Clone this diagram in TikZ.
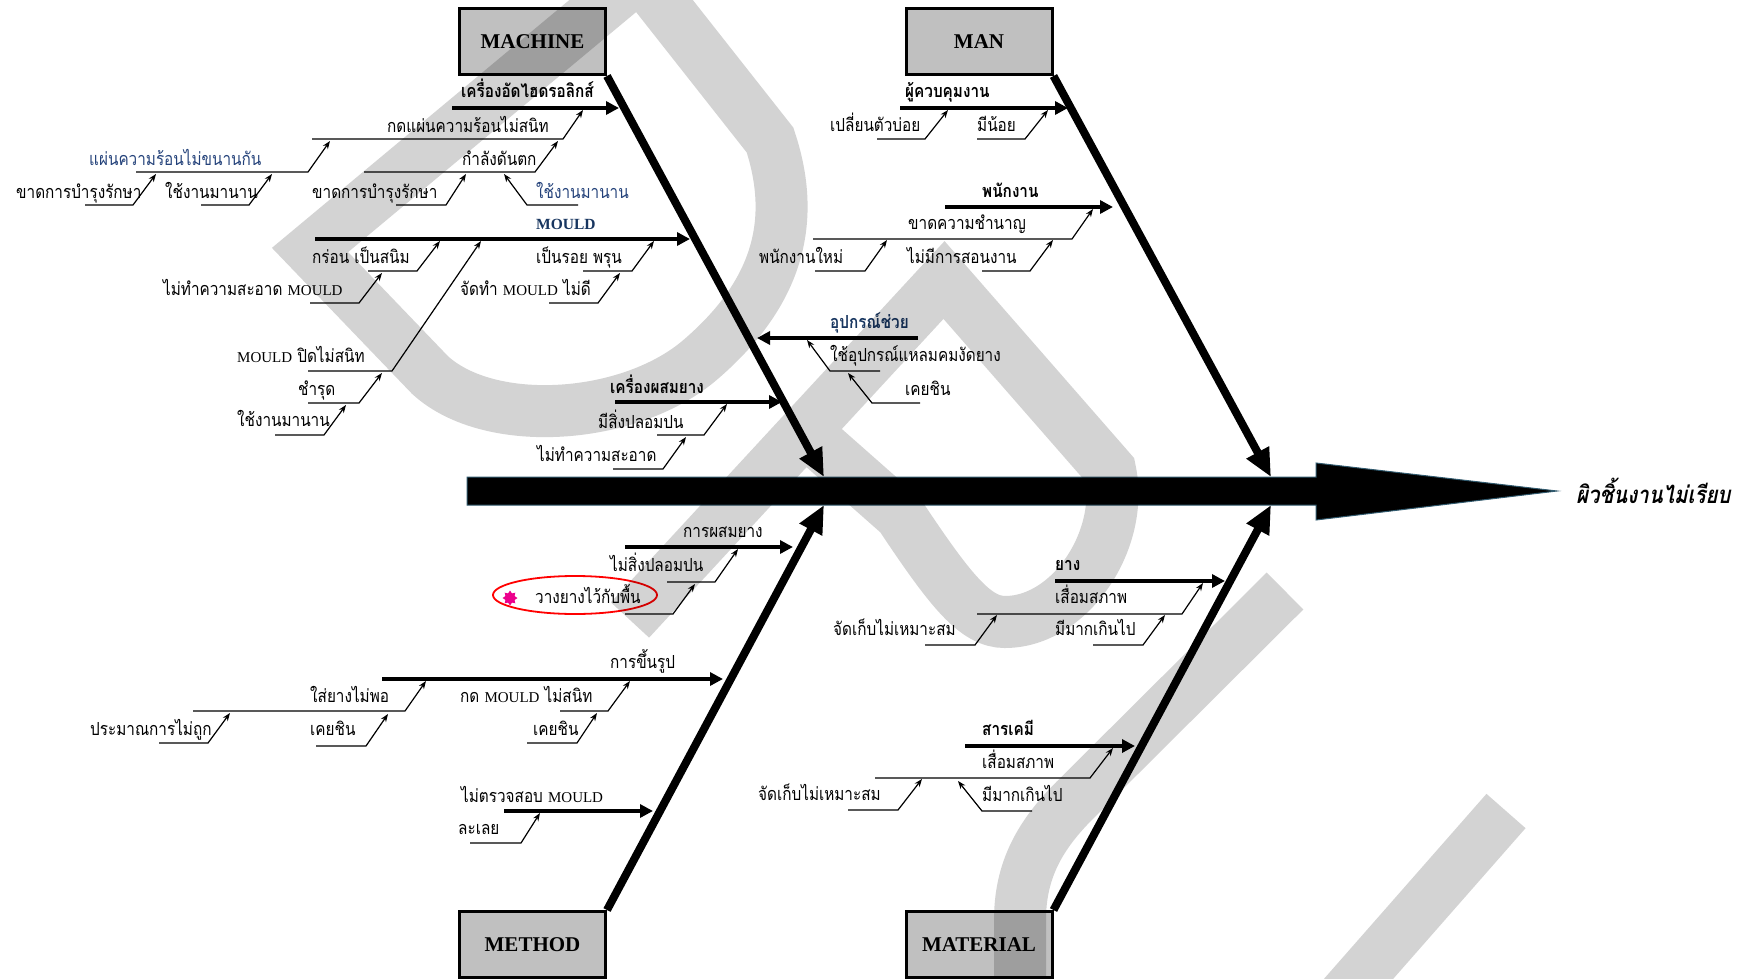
\documentclass[tikz,border=0pt]{standalone}
\usepackage{fontspec}
\setmainfont{Liberation Serif}
\newfontfamily\thaifont[Script=Thai,FakeStretch=0.85]{Loma}
\newfontfamily\thaieff[Script=Thai,FakeStretch=0.85,FakeSlant=0.2]{Loma}
\newcommand{\en}[1]{{\rmfamily\fontsize{15}{17}\selectfont #1}}
\usetikzlibrary{arrows.meta,shapes.geometric,positioning}
\definecolor{boxgrey}{RGB}{192,192,192}
\definecolor{wmgrey}{RGB}{211,211,211}
\definecolor{capblue}{RGB}{36,66,122}
\definecolor{navy}{RGB}{24,54,96}
\definecolor{spineedge}{RGB}{49,90,110}

\begin{document}
\begin{tikzpicture}[x=1pt, y=-1pt, line join=miter,
    box/.style={draw, line width=3pt, fill=boxgrey, minimum width=146pt, minimum height=66pt,
      font=\rmfamily\bfseries\fontsize{21}{24}\selectfont},
    bone/.style={line width=8pt, -{Triangle[length=28pt,width=24pt]}},
    branch/.style={line width=4.5pt, -{Triangle[length=13pt,width=13pt]}},
    twig/.style={line width=1.2pt, -{Stealth[length=8pt,width=6pt]}},
    txt/.style={anchor=base west, inner sep=0pt, font=\thaifont\fontsize{18}{20}\selectfont},
    head/.style={txt, font=\thaifont\bfseries\fontsize{18}{20}\selectfont},
    wm/.style={line width=52pt, draw=wmgrey}]
  \useasboundingbox (0,0) rectangle (1746,979);

  % categories
  \node[box] (machine)  at (532.5,41.5)  {MACHINE};
  \node[box] (man)      at (979,41.5)    {MAN};
  \node[box] (method)   at (532.5,944.5) {METHOD};
  \node[box] (material) at (979,944.5)   {MATERIAL};

  % spine and effect
  \coordinate (tail) at (467,491);
  \coordinate (head) at (1557,491);
  \draw[draw=spineedge, fill=black, line width=1pt] (467,477) -- (1316,477) -- (1316,463) -- (head)
    -- (1316,520) -- (1316,505) -- (467,505) -- cycle;
  \node[anchor=west, inner sep=0pt, font=\thaieff\bfseries\fontsize{24}{27}\selectfont,
    right=19pt of head] (effect) {ผิวชิ้นงานไม่เรียบ};

  \coordinate (jmachine)  at (824,477);
  \coordinate (jman)      at (1271,477);
  \coordinate (jmethod)   at (824,505);
  \coordinate (jmaterial) at (1271,505);
  \draw[bone] (machine.south east) -- (jmachine);
  \draw[bone] (man.south east) -- (jman);
  \draw[bone] (method.north east) -- (jmethod);
  \draw[bone] (material.north east) -- (jmaterial);

  % machine
  \node[head] (hyd) at (461,98) {เครื่องอัดไฮดรอลิกส์};
  \draw[branch] (452,108) -- (619,108);
  \node[anchor=base west, inner sep=0pt, text=navy, font=\rmfamily\bfseries\fontsize{15.5}{18}\selectfont]
    (mould) at (536,229) {MOULD};
  \draw[branch] (315,239) -- (690,239);
  \node[head] (mixer) at (610,393) {เครื่องผสมยาง};
  \draw[branch] (615,402) -- (782,402);
  \node[head, text=navy] (aid) at (830,328) {อุปกรณ์ช่วย};
  \draw[branch] (918,338) -- (757,338);

  % man
  \node[head] (super) at (905,98) {ผู้ควบคุมงาน};
  \draw[branch] (900,108) -- (1068,108);
  \node[head] (staff) at (982,197) {พนักงาน};
  \draw[branch] (945,207) -- (1113,207);

  % method
  \node[txt] (mixing) at (683,537) {การผสมยาง};
  \draw[branch] (625,547) -- (793,547);
  \node[txt] (forming) at (610,668) {การขึ้นรูป};
  \draw[branch] (382,679) -- (723,679);
  \node[txt] (check) at (461,802) {ไม่ตรวจสอบ \en{MOULD}};
  \draw[branch] (504,811) -- (653,811);

  % material
  \node[head] (rubber) at (1055,570) {ยาง};
  \draw[branch] (1055,581) -- (1225,581);
  \node[head] (chem) at (982,735) {สารเคมี};
  \draw[branch] (965,746) -- (1135,746);

  % causes: text / text x,y / underline x1,x2,y / tip
  \foreach \t/\tx/\ty/\ua/\ub/\uy/\px/\py/\col [count=\i] in {
    กดแผ่นความร้อนไม่สนิท/387/133/312/563/139/583/110/black,
    แผ่นความร้อนไม่ขนานกัน/89/166/136/308/172/330/141/capblue,
    ขาดการบำรุงรักษา/16/198/85/133/205/156/174/black,
    ใช้งานมานาน/165/198/201/249/205/272/174/black,
    กำลังดันตก/462/166/364/535/172/558/141/black,
    ขาดการบำรุงรักษา/312/198/396/446/205/466/174/black,
    ใช้งานมานาน/536/198/578/527/205/504/174/capblue,
    กร่อน เป็นสนิม/312/263/368/417/271/440/241/black,
    ไม่ทำความสะอาด \en{MOULD}/163/295/310/359/303/382/273/black,
    เป็นรอย พรุน/536/263/583/632/271/654/241/black,
    จัดทำ \en{MOULD} ไม่ดี/460/295/549/598/303/620/273/black,
    \en{MOULD} ปิดไม่สนิท/237/362/308/392/371/481/241/black,
    ชำรุด/298/395/308/359/403/382/373/black,
    ใช้งานมานาน/237/426/275/324/435/346/405/black,
    มีสิ่งปลอมปน/598/428/657/704/435/727/404/black,
    ไม่ทำความสะอาด/537/461/613/663/469/686/437/black,
    ใช้อุปกรณ์แหลมคมงัดยาง/830/361/880/830/371/807/340/black,
    เคยชิน/905/395/920/872/403/848/373/black,
    เปลี่ยนตัวบ่อย/830/132/877/925/139/948/110/black,
    มีน้อย/977/132/977/1025/139/1048/110/black,
    ขาดความชำนาญ/908/229/813/1072/239/1093/209/black,
    พนักงานใหม่/759/263/815/865/271/887/240/black,
    ไม่มีการสอนงาน/907/263/982/1030/271/1053/240/black,
    ไม่สิ่งปลอมปน/610/571/667/715/582/738/549/black,
    วางยางไว้กับพื้น/535/603/625/673/614/695/584/black,
    ใส่ยางไม่พอ/310/702/193/405/711/426/681/black,
    ประมาณการไม่ถูก/90/735/159/208/743/230/713/black,
    เคยชิน/310/735/316/366/746/388/714/black,
    กด \en{MOULD} ไม่สนิท/460/702/560/608/711/630/681/black,
    เคยชิน/533/735/527/577/743/597/713/black,
    ละเลย/458/834/470/521/843/540/813/black,
    เสื่อมสภาพ/1055/603/977/1182/614/1203/583/black,
    จัดเก็บไม่เหมาะสม/833/635/925/975/645/997/615/black,
    มีมากเกินไป/1055/635/1093/1143/645/1165/615/black,
    เสื่อมสภาพ/982/768/875/1090/778/1113/748/black,
    จัดเก็บไม่เหมาะสม/758/800/848/898/810/922/779/black,
    มีมากเกินไป/982/801/1032/982/811/958/781/black}
  {
    \node[txt, text=\col] (c\i) at (\tx,\ty) {\t};
    \draw[twig] (\ua,\uy) -- (\ub,\uy) -- (\px,\py);
  }

  % marked cause
  \node[draw=red, line width=1.8pt, ellipse, minimum width=164pt, minimum height=38pt] (mark) at (575,595) {};
  \node[star, star points=8, star point ratio=1.5, fill=magenta, inner sep=0pt, minimum size=15pt] (dot) at (510,598) {};

  % watermark
  \begin{scope}[blend mode=multiply]
    \draw[wm] (430,375) -- (310,250) -- (640,-25) -- (770,140)
      .. controls (800,230) and (770,300) .. (700,360)
      .. controls (630,420) and (490,430) .. (430,375) -- cycle;
    \draw[wm] (630,620) -- (944,280) -- (1110,470)
      .. controls (1125,540) and (1070,622) .. (1005,622)
      .. controls (975,622) and (950,590) .. (900,515) -- (815,440);
    \draw[wm] (1285,591) -- (1075,800) .. controls (1040,835) and (1020,870) .. (1020,920) -- (1020,1000);
    \draw[wm] (1506,811) -- (1340,1000);
  \end{scope}
\end{tikzpicture}
\end{document}
